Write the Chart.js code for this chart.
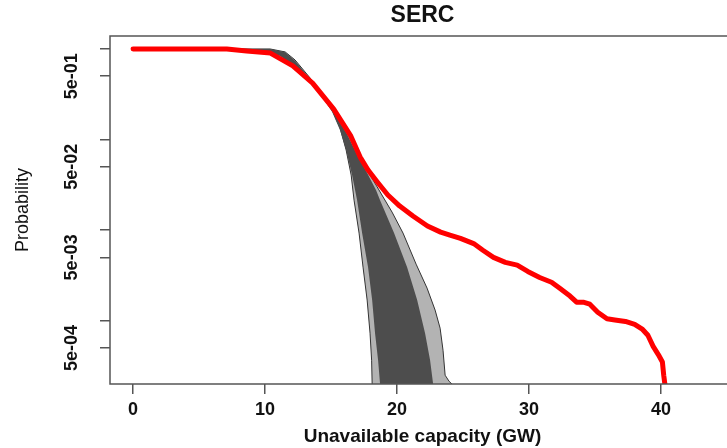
<!DOCTYPE html>
<html>
<head>
<meta charset="utf-8">
<script src="https://cdn.jsdelivr.net/npm/chart.js@4"></script>
<style>
  body { margin: 0; overflow: hidden; background: #fff; }
  #wrap { width: 750px; height: 448px; }
</style>
</head>
<body>
<div id="wrap"><canvas id="chart"></canvas></div>
<script>
// ----------------------- DATA -----------------------
// red curve (observed)
const redX = [0, 7.1, 8.6, 10.4, 12.1, 13.6, 15.2, 16.5, 17.2, 17.8, 18.5, 19.3, 20.2, 21.2, 22.3, 23.3, 24.0, 24.8, 25.8, 26.5, 27.3, 28.2, 29.1, 29.9, 30.8, 31.7, 32.3, 33.1, 33.6, 34.1, 34.6, 35.2, 35.9, 36.5, 37.3, 38.0, 38.6, 39.0, 39.4, 39.8, 40.1, 40.2, 40.35];
const redP = [1.0, 0.997, 0.95, 0.90, 0.65, 0.42, 0.217, 0.109, 0.064, 0.046, 0.034, 0.0244, 0.0184, 0.0143, 0.0111, 0.0095, 0.0088, 0.0081, 0.0071, 0.0060, 0.0050, 0.0044, 0.0041, 0.0035, 0.0030, 0.00266, 0.00229, 0.00187, 0.0016, 0.0016, 0.00152, 0.00124, 0.00105, 0.00102, 0.00098, 0.00091, 0.0008, 0.00069, 0.00052, 0.00042, 0.00035, 0.00025, 0.00017];

// outer (light grey) band edges
const lightLowX = [7.73, 9.62, 11.14, 12.27, 13.41, 14.32, 15.08, 15.68, 16.14, 16.52, 16.74, 17.12, 17.42, 17.73, 17.95, 18.07, 18.11, 18.15, 30];
const lightLowP = [1.0, 0.975, 0.859, 0.666, 0.454, 0.31, 0.212, 0.134, 0.0766, 0.0405, 0.0214, 0.00927, 0.0039, 0.00169, 0.000728, 0.000366, 0.0002, 0.0001, 0.0001];
const lightHighX = [7.73, 10.38, 11.52, 12.27, 13.41, 14.92, 16.21, 16.97, 17.65, 18.41, 18.94, 19.62, 20.45, 21.44, 22.27, 22.88, 23.26, 23.48, 23.64, 23.94, 24.17, 24.3, 30];
const lightHighP = [1.0, 1.0, 0.927, 0.756, 0.478, 0.247, 0.121, 0.0728, 0.0484, 0.0314, 0.0232, 0.0158, 0.00927, 0.00421, 0.00229, 0.00131, 0.000826, 0.000472, 0.00025, 0.000214, 0.000199, 0.0001, 0.0001];

// inner (dark grey) band edges
const darkLowX = [7.73, 9.62, 11.14, 12.27, 13.41, 14.32, 15.08, 15.68, 16.14, 16.59, 16.97, 17.35, 17.80, 18.11, 18.33, 18.56, 18.71, 18.75, 30];
const darkLowP = [1.0, 0.962, 0.837, 0.633, 0.432, 0.295, 0.201, 0.127, 0.0766, 0.0405, 0.0214, 0.00927, 0.0039, 0.00169, 0.000728, 0.000366, 0.0002, 0.0001, 0.0001];
const darkHighX = [7.73, 10.38, 11.52, 12.27, 13.41, 14.92, 16.21, 16.97, 17.65, 18.41, 18.71, 19.77, 20.76, 21.52, 22.12, 22.5, 22.73, 22.8, 30];
const darkHighP = [1.0, 1.0, 0.92, 0.74, 0.465, 0.235, 0.115, 0.068, 0.045, 0.0275, 0.0214, 0.00927, 0.0039, 0.00169, 0.000728, 0.000366, 0.0002, 0.0001, 0.0001];

// axes
const xTicks = [0, 10, 20, 30, 40];
const yTicks = [1, 0.5, 0.1, 0.05, 0.01, 0.005, 0.001, 0.0005];
const yTickLabels = ["", "5e-01", "", "5e-02", "", "5e-03", "", "5e-04"];

// ----------------------- UTIL -----------------------
function pts(xs, ps) {
  return xs.map((x, i) => ({ x: x, y: ps[i] }));
}

// R style box round the plot region
const plotBox = {
  id: "plotBox",
  afterDatasetsDraw(chart) {
    const { ctx, chartArea: { left, top, width, height } } = chart;
    ctx.save();
    ctx.strokeStyle = "#555";
    ctx.lineWidth = 1.5;
    ctx.strokeRect(left, top, width, height);
    ctx.restore();
  },
};

// ----------------------- CHART -----------------------
Chart.defaults.font.family = "'Liberation Sans', Arial, sans-serif";
Chart.defaults.color = "#111";

const lightFill = "#b3b3b3";
const darkFill = "#4d4d4d";

new Chart(document.getElementById("chart"), {
  type: "line",
  data: {
    datasets: [
      {
        data: pts(lightLowX, lightLowP),
        borderColor: "#333",
        borderWidth: 1,
        fill: false,
        order: 2,
      },
      {
        data: pts(lightHighX, lightHighP),
        borderColor: "#333",
        borderWidth: 1,
        backgroundColor: lightFill,
        fill: 0,
        order: 2,
      },
      {
        data: pts(darkLowX, darkLowP),
        borderColor: darkFill,
        borderWidth: 0,
        fill: false,
        order: 1,
      },
      {
        data: pts(darkHighX, darkHighP),
        borderColor: darkFill,
        borderWidth: 0,
        backgroundColor: darkFill,
        fill: 2,
        order: 1,
      },
      {
        data: pts(redX, redP),
        borderColor: "#ff0000",
        borderWidth: 5,
        borderCapStyle: "round",
        borderJoinStyle: "round",
        fill: false,
        order: 0,
      },
    ],
  },
  options: {
    responsive: true,
    maintainAspectRatio: false,
    animation: false,
    layout: { padding: { left: 0, right: 15, top: 0, bottom: 0 } },
    elements: { point: { radius: 0 }, line: { tension: 0 } },
    plugins: {
      legend: { display: false },
      tooltip: { enabled: false },
      title: {
        display: true,
        text: "SERC",
        fullSize: false,
        font: { size: 23, weight: "bold" },
        padding: { top: 2, bottom: 6.4 },
      },
    },
    scales: {
      x: {
        type: "linear",
        min: -1.75,
        max: 45.6,
        afterBuildTicks(scale) {
          scale.ticks = xTicks.map((v) => ({ value: v }));
        },
        afterFit(scale) {
          scale.height = 64;
        },
        border: { display: false },
        grid: { drawOnChartArea: false, drawTicks: true, tickLength: 10, color: "#555", lineWidth: 1.5 },
        ticks: { font: { size: 18, weight: "bold" }, padding: 5, maxRotation: 0, autoSkip: false },
        title: {
          display: true,
          text: "Unavailable capacity (GW)",
          font: { size: 19, weight: "bold" },
          padding: { top: 0, bottom: 0 },
        },
      },
      y: {
        type: "logarithmic",
        min: 0.0002,
        max: 1.39,
        afterBuildTicks(scale) {
          scale.ticks = yTicks.map((v) => ({ value: v }));
        },
        afterFit(scale) {
          scale.width = 110;
        },
        border: { display: false },
        grid: { drawOnChartArea: false, drawTicks: true, tickLength: 10, color: "#555", lineWidth: 1.5 },
        ticks: {
          font: { size: 18, weight: "bold" },
          padding: 5,
          minRotation: 90,
          maxRotation: 90,
          crossAlign: "center",
          autoSkip: false,
          callback: (value, index) => yTickLabels[index],
        },
        title: {
          display: true,
          text: "Probability",
          font: { size: 18, weight: "normal" },
          padding: { top: 12, bottom: 0 },
        },
      },
    },
  },
  plugins: [plotBox],
});
</script>
</body>
</html>
